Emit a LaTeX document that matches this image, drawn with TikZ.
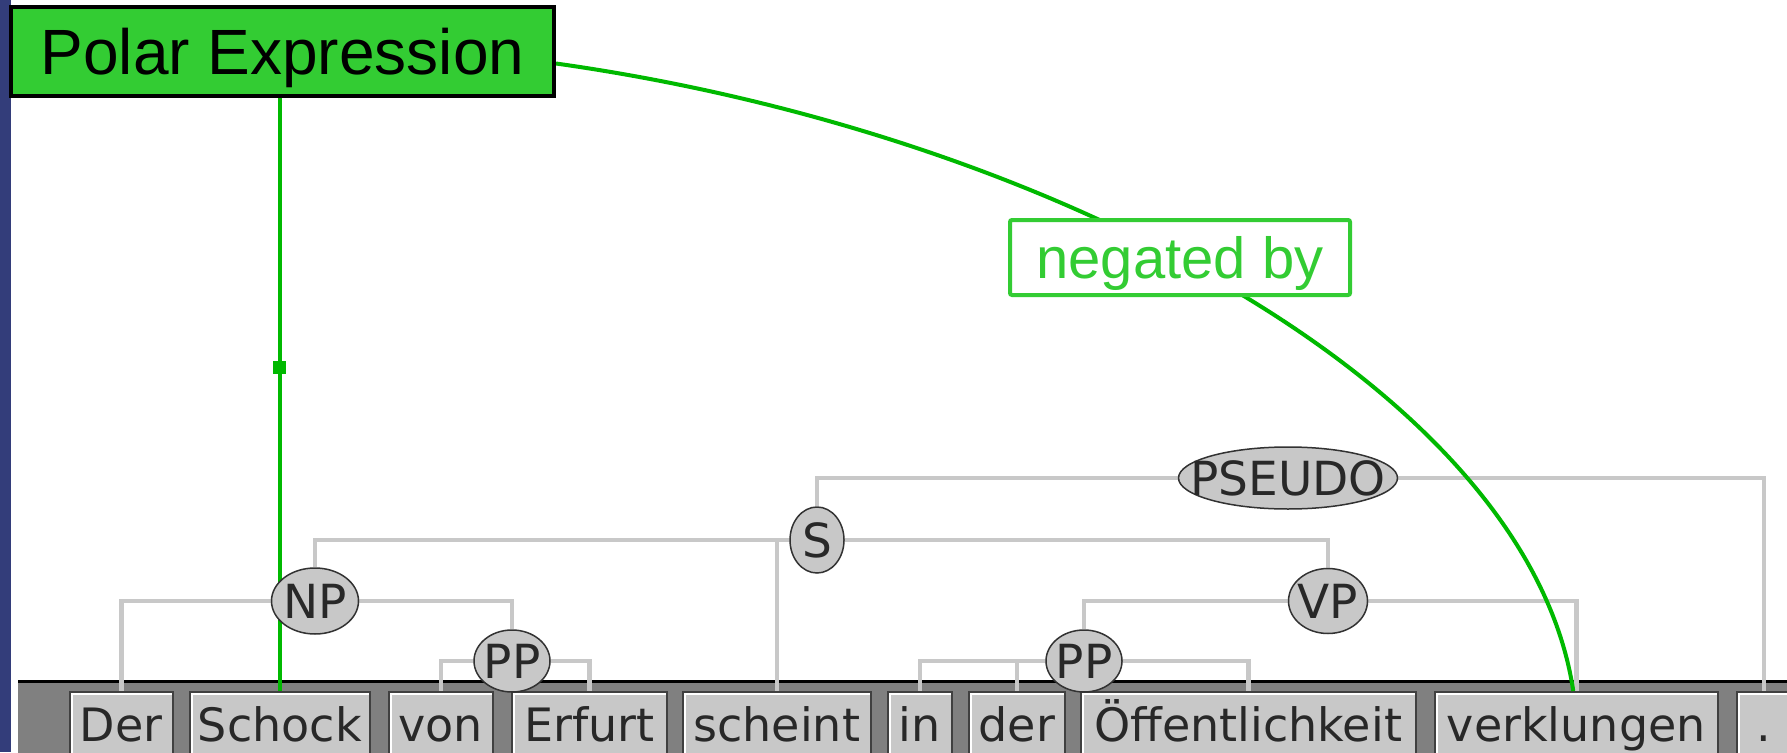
\documentclass[tikz,border=0pt]{standalone}
\usepackage{fontspec}
\newfontfamily\dvs{DejaVu Sans}
\newfontfamily\lib{Liberation Sans}
\usetikzlibrary{shapes.geometric}
\definecolor{bluestrip}{RGB}{51,61,122}
\definecolor{polargreen}{RGB}{51,204,51}
\definecolor{linegreen}{RGB}{0,185,0}
\definecolor{treegray}{RGB}{200,200,200}
\definecolor{boxfill}{RGB}{200,200,200}
\definecolor{boxdark}{RGB}{64,64,64}
\definecolor{bandgray}{RGB}{128,128,128}
\definecolor{txt}{RGB}{40,40,40}
\definecolor{ellborder}{RGB}{50,50,50}
\pgfdeclarelayer{l0}\pgfdeclarelayer{l1}\pgfdeclarelayer{l2}
\pgfsetlayers{l0,l1,l2,main}
\tikzset{
  wordbox/.style={draw=boxdark, line width=1.5pt, fill=boxfill, anchor=north west,
    inner xsep=0pt, inner ysep=0pt, minimum width=#1, text height=50pt, text depth=30pt,
    font=\dvs\fontsize{46pt}{50pt}\selectfont, text=txt,
    path picture={\draw[white,line width=2pt]
      ([xshift=2.5pt]path picture bounding box.south west) |-
      ([yshift=-2.5pt]path picture bounding box.north east);}},
  treenode/.style={ellipse, draw=ellborder, line width=1.5pt, fill=boxfill, inner sep=0pt,
    font=\dvs\fontsize{47pt}{50pt}\selectfont, text=txt},
  treeline/.style={draw=treegray, line width=4.5pt},
  greenline/.style={draw=linegreen, line width=4pt},
  gmark/.style={rectangle, fill=linegreen, minimum width=13pt, minimum height=13pt, inner sep=0pt},
}
\begin{document}
\begin{tikzpicture}[x=1pt,y=-1pt]
\useasboundingbox (0,0) rectangle (1787,752);
\begin{pgfonlayer}{l0}
  \fill[white] (0,0) rectangle (1787,752);
  \fill[bluestrip] (0,0) rectangle (11,752);
  \fill[bandgray] (18,680) rectangle (1800,760);
  \draw[black, line width=3pt] (18,681.5) -- (1800,681.5);
  \node[wordbox=103pt] (der) at (69,691) {Der};
  \node[wordbox=180pt] (schock) at (189,691) {Schock};
  \node[wordbox=104pt] (von) at (388,691) {von};
  \node[wordbox=155pt] (erfurt) at (511,691) {Erfurt};
  \node[wordbox=188pt] (scheint) at (682,691) {scheint};
  \node[wordbox=64pt] (in) at (887,691) {in};
  \node[wordbox=96pt] (der2) at (968,691) {der};
  \node[wordbox=335pt] (oeff) at (1080,691) {Öffentlichkeit};
  \node[wordbox=283pt] (verk) at (1434,691) {verklungen};
  \node[wordbox=54pt] (dot) at (1736,691) {.};
\end{pgfonlayer}

\node[treenode, minimum width=219pt, minimum height=62pt] (pseudo) at (1288,478) {\makebox[0pt]{PSEUDO}};
\node[treenode, minimum width=54pt, minimum height=66pt] (s) at (817,540) {\makebox[0pt]{S}};
\node[treenode, minimum width=87pt, minimum height=66pt] (np) at (315,601) {\makebox[0pt]{NP}};
\node[treenode, minimum width=79pt, minimum height=65pt] (vp) at (1328,601) {\makebox[0pt]{VP}};
\node[treenode, minimum width=76pt, minimum height=62pt] (pp1) at (512,661) {\makebox[0pt]{PP}};
\node[treenode, minimum width=76pt, minimum height=62pt] (pp2) at (1084,661) {\makebox[0pt]{PP}};

\node[draw=black, line width=4pt, fill=polargreen, minimum width=543pt, minimum height=89pt,
  inner sep=0pt, font=\lib\fontsize{64pt}{70pt}\selectfont, text height=46pt, text depth=0pt]
  (pe) at (282.5,51.5) {Polar Expression};

\begin{pgfonlayer}{l1}
  \draw[treeline] (pseudo.center) -| (s.north);
  \draw[treeline] (pseudo.center) -| (dot.north);
  \draw[treeline] (s.center) -| (np.north);
  \draw[treeline] (s.center) -| (scheint.north);
  \draw[treeline] (s.center) -| (vp.north);
  \draw[treeline] (np.center) -| (der.north);
  \draw[treeline] (np.center) -| (pp1.north);
  \draw[treeline] (pp1.center) -| (von.north);
  \draw[treeline] (pp1.center) -| (erfurt.north);
  \draw[treeline] (vp.center) -| (pp2.north);
  \draw[treeline] (vp.center) -| (verk.north);
  \draw[treeline] (pp2.center) -| (in.north);
  \draw[treeline] (pp2.center) -| (der2.north);
  \draw[treeline] (pp2.center) -| (oeff.north);
\end{pgfonlayer}

\begin{pgfonlayer}{l2}
  \draw[greenline] (pe.south -| schock.north) -- node[gmark, pos=0.455] (mk) {} (schock.north);
  \draw[greenline] ([yshift=-12pt]pe.east) .. controls (1056,134) and (1528,390) .. ([xshift=-3pt]verk.north);
\end{pgfonlayer}

\node[draw=polargreen, line width=4pt, fill=white, rounded corners=2pt, minimum width=340pt,
  minimum height=75pt, inner sep=0pt, text=polargreen, font=\lib\fontsize{58pt}{64pt}\selectfont,
  text height=42pt, text depth=0pt] (neg) at (1180,257.5) {negated by};
\end{tikzpicture}
\end{document}
